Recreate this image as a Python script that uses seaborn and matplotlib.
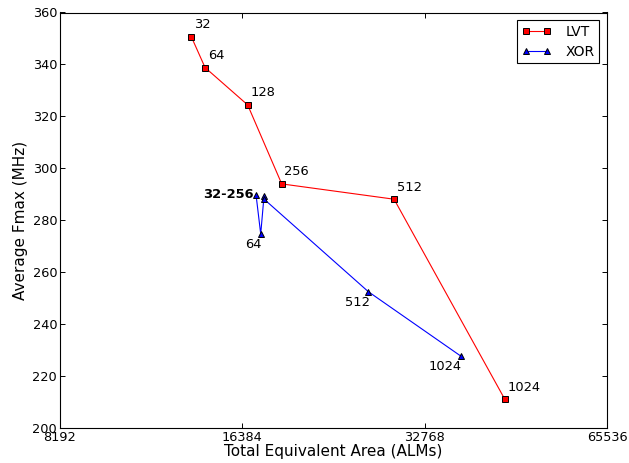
import matplotlib
matplotlib.use("Agg")
import matplotlib.pyplot as plt
from matplotlib.ticker import FixedLocator, FixedFormatter, NullLocator
import seaborn as sns
import pandas as pd

# data
lvt_labels = ["32", "64", "128", "256", "512", "1024"]
lvt_area = [13500, 14220, 16720, 19030, 29170, 44430]
lvt_fmax = [350.6, 338.8, 324.4, 294.0, 288.1, 211.1]

xor_labels = ["32", "64", "128", "256", "512", "1024"]
xor_area = [17260, 17570, 17790, 17820, 26450, 37590]
xor_fmax = [289.8, 274.7, 289.2, 288.0, 252.5, 227.7]

x_ticks = [8192, 16384, 32768, 65536]
y_ticks = [200, 220, 240, 260, 280, 300, 320, 340, 360]


def main():
    sns.set_style("ticks")
    plt.rcParams.update({
        "font.family": ["DejaVu Sans"],
        "xtick.direction": "in",
        "ytick.direction": "in",
        "xtick.top": True,
        "ytick.right": True,
        "xtick.major.size": 3.5,
        "ytick.major.size": 3.5,
        "xtick.major.width": 0.7,
        "ytick.major.width": 0.7,
        "axes.edgecolor": "black",
        "axes.linewidth": 0.8,
        "xtick.color": "black",
        "ytick.color": "black",
        "text.color": "black",
        "axes.labelcolor": "black",
    })

    fig = plt.figure(figsize=(6.29, 4.63), dpi=100)
    ax = fig.add_axes([60 / 629, 35 / 463, 547 / 629, 415.5 / 463])

    lvt = pd.DataFrame({"area": lvt_area, "fmax": lvt_fmax})
    xor = pd.DataFrame({"area": xor_area, "fmax": xor_fmax})

    sns.lineplot(data=lvt, x="area", y="fmax", ax=ax, sort=False, color="red",
                 marker="s", markersize=5, markerfacecolor="red",
                 markeredgecolor="black", markeredgewidth=0.7,
                 linewidth=0.8, label="LVT")
    sns.lineplot(data=xor, x="area", y="fmax", ax=ax, sort=False, color="blue",
                 marker="^", markersize=5, markerfacecolor="blue",
                 markeredgecolor="black", markeredgewidth=0.7,
                 linewidth=0.8, label="XOR")

    # point labels
    for lab, xv, yv in zip(lvt_labels, lvt_area, lvt_fmax):
        ax.annotate(lab, (xv, yv), xytext=(2, 4), textcoords="offset points",
                    fontsize=9.4, ha="left", va="bottom")
    for lab, xv, yv in zip(xor_labels, xor_area, xor_fmax):
        if lab in ("64", "512", "1024"):
            ax.annotate(lab, (xv, yv), xytext=(1, -3), textcoords="offset points",
                        fontsize=9.4, ha="right", va="top")
    ax.annotate("32-256", (xor_area[0], xor_fmax[0]), xytext=(-2, 0),
                textcoords="offset points", fontsize=9.4, ha="right",
                va="center", fontweight="bold")

    ax.set_xscale("log", base=2)
    ax.set_xlim(8192, 65536)
    ax.set_ylim(200, 360)
    ax.xaxis.set_major_locator(FixedLocator(x_ticks))
    ax.xaxis.set_major_formatter(FixedFormatter([str(t) for t in x_ticks]))
    ax.xaxis.set_minor_locator(NullLocator())
    ax.set_yticks(y_ticks)
    ax.tick_params(labelsize=9.3, pad=2)

    ax.set_xlabel("Total Equivalent Area (ALMs)", fontsize=11, labelpad=0)
    ax.set_ylabel("Average Fmax (MHz)", fontsize=11, labelpad=3)

    leg = ax.legend(loc="upper right", numpoints=2, fontsize=10,
                    fancybox=False, framealpha=1, edgecolor="black",
                    borderaxespad=0.55, handlelength=2.1, handletextpad=1.0,
                    borderpad=0.35, labelspacing=0.4)
    leg.get_frame().set_linewidth(0.8)

    fig.savefig("out.png", dpi=100)
    plt.close(fig)


if __name__ == "__main__":
    main()
